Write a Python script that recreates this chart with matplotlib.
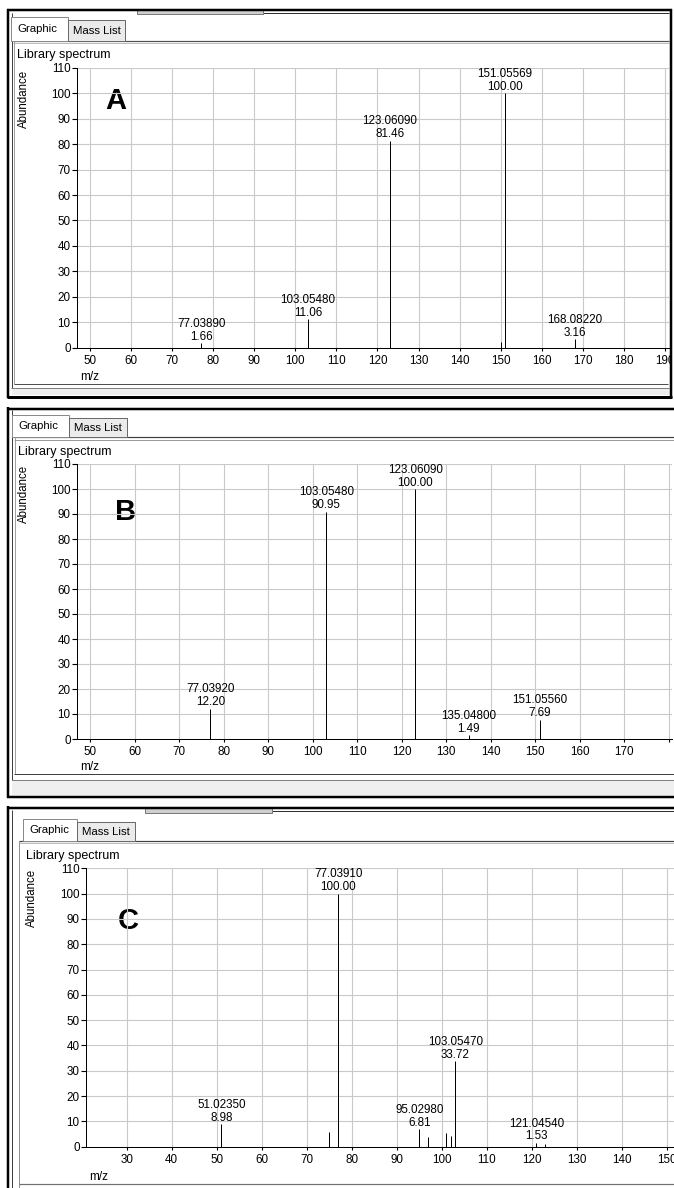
import matplotlib
matplotlib.use('Agg')
import matplotlib.pyplot as plt
from matplotlib.patches import Rectangle

plt.rcParams['font.family'] = ['Liberation Sans', 'DejaVu Sans']

# ---------------- data ----------------
A_mz = [77.0389, 103.0548, 123.0609, 150.05, 151.05569, 168.0822]
A_ab = [1.66, 11.06, 81.46, 2.2, 100.00, 3.16]
A_lab = [True, True, True, False, True, True]
A_xticks = [50, 60, 70, 80, 90, 100, 110, 120, 130, 140, 150, 160, 170, 180, 190]

B_mz = [77.0392, 103.0548, 123.0609, 135.0480, 151.0556]
B_ab = [12.20, 90.95, 100.00, 1.49, 7.69]
B_lab = [True, True, True, True, True]
B_xticks = [50, 60, 70, 80, 90, 100, 110, 120, 130, 140, 150, 160, 170, 180]
B_xticklabels = ['50', '60', '70', '80', '90', '100', '110', '120', '130', '140',
                 '150', '160', '170', '']

C_mz = [51.0235, 75.0, 77.0391, 95.0298, 97.0, 101.0, 102.0, 103.0547, 121.0454, 123.0]
C_ab = [8.98, 5.9, 100.00, 6.81, 3.7, 5.5, 4.2, 33.72, 1.53, 1.0]
C_lab = [True, False, True, True, False, False, False, True, True, False]
C_xticks = [30, 40, 50, 60, 70, 80, 90, 100, 110, 120, 130, 140, 150]

Y_ticks = [0, 10, 20, 30, 40, 50, 60, 70, 80, 90, 100, 110]

# ---------------- figure ----------------
W, H = 674, 1188
fig = plt.figure(figsize=(W / 100, H / 100), dpi=100)
fig.patch.set_facecolor('white')

bg = fig.add_axes([0, 0, 1, 1], zorder=0)
bg.set_xlim(0, W); bg.set_ylim(H, 0); bg.axis('off')
fg = fig.add_axes([0, 0, 1, 1], zorder=10)
fg.set_xlim(0, W); fg.set_ylim(H, 0); fg.axis('off')
fg.patch.set_alpha(0)

PX = 0.72
FS = 8.4


def hl(ax, y, x0, x1, c='black', w=1.0):
    ax.plot([x0, x1], [y, y], color=c, lw=w * PX, solid_capstyle='butt')


def vl(ax, x, y0, y1, c='black', w=1.0):
    ax.plot([x, x], [y0, y1], color=c, lw=w * PX, solid_capstyle='butt')


def rect(ax, x0, y0, x1, y1, fc, ec='none', w=1.0, z=1):
    ax.add_patch(Rectangle((x0, y0), x1 - x0, y1 - y0, fc=fc, ec=ec, lw=w * PX, zorder=z))


def tabs(ax, gx0, gx1, mx1, ytop, ybot):
    rect(ax, gx0, ytop, gx1, ybot, 'white', '#8a8a8a', 1.0, z=3)
    rect(ax, gx1, ytop + 3, mx1, ybot, '#ebebeb', '#6a6a6a', 1.0, z=3)
    ax.text(gx0 + 6, (ytop + ybot) / 2, 'Graphic', fontsize=8.2, va='center', ha='left', zorder=4)
    ax.text(gx1 + 5, (ytop + 3 + ybot) / 2 + 0.5, 'Mass List', fontsize=8.2, va='center',
            ha='left', zorder=4)


def make_axes(l, r, t, b):
    return fig.add_axes([l / W, 1 - b / H, (r - l) / W, (b - t) / H], zorder=5)


def style(ax, xlim, xticks, xticklabels=None):
    ax.set_xlim(*xlim)
    ax.set_ylim(0, 110)
    ax.set_xticks(xticks)
    if xticklabels is not None:
        ax.set_xticklabels(xticklabels)
    ax.set_yticks(Y_ticks)
    ax.grid(True, color='#c9c9c9', lw=1.1 * PX)
    ax.set_axisbelow(True)
    for s in ['top', 'right']:
        ax.spines[s].set_visible(False)
    for s in ['left', 'bottom']:
        ax.spines[s].set_color('black')
        ax.spines[s].set_linewidth(1.0 * PX)
    ax.tick_params(axis='y', direction='out', length=3.8, width=0.8, pad=0.8, labelsize=FS)
    ax.tick_params(axis='x', direction='out', length=2.3, width=0.8, pad=3.0, labelsize=FS)
    ax.patch.set_alpha(0)


def peaks(ax, mz, ab, lab):
    ax.vlines(mz, 0, ab, color='black', lw=1.0 * PX)
    for m, a, l in zip(mz, ab, lab):
        if l:
            ax.annotate(f"{m:.5f}\n{a:.2f}", (m, a), xytext=(0, 0.3), textcoords='offset points',
                        ha='center', va='bottom', fontsize=FS, linespacing=1.1,
                        annotation_clip=False)


# ================= Panel A chrome =================
rect(bg, 8, 10, 671, 397, 'white', 'none')
rect(bg, 12, 388, 669, 395, '#efefef')
rect(bg, 137, 10, 263, 14, '#cfcfcf', '#7a7a7a', 1.0, z=3)
hl(bg, 13, 263, 669, '#303030', 1.0)
tabs(bg, 11, 68, 125, 17, 41)
hl(bg, 41, 13, 669, '#505050', 1.2)
hl(bg, 42.5, 13, 669, '#bdbdbd', 1.0)
vl(bg, 11.5, 13, 388, '#404040', 1.0)
vl(bg, 14, 41, 384, '#a0a0a0', 1.0)
hl(bg, 384, 14, 668, '#505050', 1.0)
hl(bg, 387.5, 11, 669, '#808080', 1.0)
bg.text(17, 55, 'Library spectrum', fontsize=9, va='center', ha='left')
bg.text(24, 99, 'Abundance', fontsize=8.3, rotation=90, va='center', ha='center')
bg.text(116, 101, 'A', fontsize=21, fontweight='bold', va='center', ha='center')
bg.text(90, 377, 'm/z', fontsize=8.5, va='center', ha='center')

# ================= Panel B chrome =================
rect(bg, 12, 780, 674, 795, '#efefef')
tabs(bg, 12, 69, 127, 415, 437)
hl(bg, 437, 14, 674, '#404040', 1.2)
hl(bg, 439.5, 14, 674, '#9a9a9a', 1.0)
vl(bg, 12, 410, 780, '#404040', 1.0)
vl(bg, 14.5, 437, 774, '#a0a0a0', 1.0)
hl(bg, 774, 14, 674, '#404040', 1.0)
hl(bg, 779.5, 12, 674, '#808080', 1.0)
bg.text(18, 452, 'Library spectrum', fontsize=9, va='center', ha='left')
bg.text(24, 494, 'Abundance', fontsize=8.3, rotation=90, va='center', ha='center')
bg.text(126, 512, 'B', fontsize=21, fontweight='bold', va='center', ha='center')
bg.text(90, 767, 'm/z', fontsize=8.5, va='center', ha='center')

# ================= Panel C chrome =================
rect(bg, 145, 807, 272, 813, '#cfcfcf', '#7a7a7a', 1.0, z=3)
hl(bg, 811, 272, 674, '#303030', 1.0)
tabs(bg, 23, 77, 135, 819, 841)
hl(bg, 841, 19, 674, '#404040', 1.2)
hl(bg, 842.5, 19, 674, '#bdbdbd', 1.0)
vl(bg, 12, 810, 1188, '#404040', 1.0)
vl(bg, 19, 841, 1188, '#909090', 1.0)
hl(bg, 1184, 19, 674, '#707070', 1.2)
bg.text(26, 856, 'Library spectrum', fontsize=9, va='center', ha='left')
bg.text(32, 898, 'Abundance', fontsize=8.3, rotation=90, va='center', ha='center')
bg.text(128, 921, 'C', fontsize=21, fontweight='bold', va='center', ha='center')
bg.text(99, 1177, 'm/z', fontsize=8.5, va='center', ha='center')

# ================= Spectra =================
axA = make_axes(77, 669, 68, 347.5)
style(axA, (46.83, 190.98), A_xticks)
peaks(axA, A_mz, A_ab, A_lab)

axB = make_axes(77, 672, 464, 739)
style(axB, (47.08, 180.72), B_xticks, B_xticklabels)
peaks(axB, B_mz, B_ab, B_lab)

axC = make_axes(86, 674, 868.3, 1146.7)
style(axC, (20.96, 151.62), C_xticks)
peaks(axC, C_mz, C_ab, C_lab)

# ================= Overlay frames =================
rect(fg, 670, 348, 674, 372, 'white')
# Panel A outer frame
hl(fg, 10, 7, 672, 'black', 2.5)
vl(fg, 8, 9, 398, 'black', 2.5)
vl(fg, 670.5, 9, 398, 'black', 2.5)
hl(fg, 396.5, 7, 672, 'black', 3.0)
# Panel B outer frame
hl(fg, 408.5, 7, 674, 'black', 2.5)
vl(fg, 8, 407, 798, 'black', 2.5)
hl(fg, 797, 7, 674, 'black', 2.5)
# Panel C outer frame
hl(fg, 807.5, 7, 674, 'black', 2.5)
vl(fg, 8, 806, 1188, 'black', 2.5)

fig.savefig('out.png', dpi=100, facecolor='white')
